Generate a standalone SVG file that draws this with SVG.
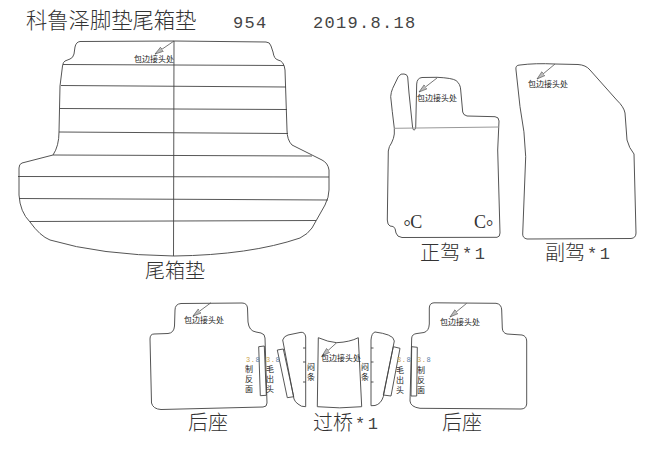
<svg xmlns="http://www.w3.org/2000/svg" width="650" height="455" viewBox="0 0 650 455">
<style>
.o{fill:none;stroke:#555;stroke-width:1}
.t{fill:none;stroke:#444;stroke-width:.9}
.g{fill:none;stroke:#999;stroke-width:1}
.a{fill:none;stroke:#555;stroke-width:.8;marker-end:url(#ah)}
text{font-family:"Noto Sans CJK SC","Liberation Sans",sans-serif;fill:#333}
.big{font-size:20px;font-weight:300}
.note{font-size:8px;fill:#222}
.v{font-size:8px;fill:#222;text-anchor:middle}
.m{font-family:"Liberation Mono",monospace;font-size:17px;letter-spacing:1.3px;fill:#444}
.s{font-family:"Liberation Mono",monospace;font-size:17px;letter-spacing:2.500px;fill:#444}
.n{font-family:"Liberation Mono",monospace;font-size:7px;letter-spacing:.6px;fill:#555}
.c{font-family:"Liberation Serif",serif;font-size:18px;fill:#333}
</style>
<defs>
<marker id="ah" markerWidth="10" markerHeight="7" refX="8.500" refY="3" orient="auto" markerUnits="userSpaceOnUse"><path d="M0 0.500L8.500 3L0 5.500Z" fill="#bbb" stroke="#555" stroke-width=".6"/></marker>
</defs>
<g id="title">
<text x="26" y="28" style="font-size:21.3px;font-weight:300">科鲁泽脚垫尾箱垫</text>
<text x="233" y="28" class="m">954</text>
<text x="313" y="28" class="m">2019.8.18</text>
</g>
<g id="trunk-mat">
<path class="o" d="M174 41L80 41.500Q76 42 75 47L74 54Q73 58 70 59L65 61Q63 62 62.500 66L60 86L59 132Q59 146 53 155L22 163Q19 164 19 168L19 195Q20 212 30 222Q40 236 50 240Q100 255 174 256Q250 255 300 238Q308 234 312 228L325 205Q329 197 329 190L329 170Q328 163 322 160L292 145Q287 140 287 130L285 70Q284 61 278 60Q274 59 273 52L271 46Q270 42 266 42Z"/>
<path class="t" d="M63 64.500L284 65.500M61 85.500L286 87M60 108.500L287 109.500M59 132L288 133.500M53 155L312 156M18 176.500L329 177M19 198.500L328 200M30 221.500L316 220.500M174 41L173.500 256"/>
<path class="a" d="M174 41L155 54"/>
<text x="134" y="61.500" class="note">包边接头处</text>
<text x="145" y="278" class="big">尾箱垫</text>
</g>
<g id="driver-mat">
<path class="o" d="M394.300 128.300Q392 110 390.700 96.700Q391 92 392.700 88.300L398.300 76.700Q401 73 404 74Q407 74 407.700 77L409 93L412.700 128.300Q414 132 415.700 128L416.700 84Q417 78 422 77.500L437 77.300Q452 78 456 80.500Q460.500 84 460.700 90L462.700 112Q463 115 467 116L495 116.700Q499 117 499 121L497.700 150L500 233Q500 237 497 237.300L402 237.500Q397 237 396 233Q395.500 227 393 226.500L390 226Q387.500 225 387.300 220L388.300 151Q389 146 391.500 143Q394 138 394.300 134Z"/>
<path class="g" d="M394.300 128.300L499 127"/>
<path class="a" d="M437 78L419 92"/>
<text x="417" y="100.500" class="note">包边接头处</text>
<text x="403.500" y="228" class="c"><tspan dy="5">°</tspan><tspan dx="-.5" dy="-5">C</tspan></text>
<text x="474" y="228" class="c">C<tspan dy="5">°</tspan></text>
<text x="420" y="260" class="big">正驾<tspan class="s" dx="2" dy="-1">*1</tspan></text>
</g>
<g id="passenger-mat">
<path class="o" d="M516 70Q515 65 520 65Q535 63 555 64L578 64.500Q586 65 590 70L616.700 100Q624 107 625 113L627 140Q629 148 634 154L636 233Q636 238 631 238.500L527 239Q522.500 238 522.700 234L525.700 156.700Q525 132 520 106.700Z"/>
<path class="a" d="M555 64L537 79"/>
<text x="528" y="86.500" class="note">包边接头处</text>
<text x="545" y="260" class="big">副驾<tspan class="s" dx="2" dy="-1">*1</tspan></text>
</g>
<g id="rear-left">
<path class="o" d="M175 310Q175 304 181 303.500L242 303Q247 303 247.500 308L248 322Q249 331 256 332L261 333Q265 334 265 338L267 403Q267 407 263 407L161 409.500Q153 409 151.500 403L150 339Q150 334 154 334L168 333.500Q174 333 174.500 326Z"/>
<path class="t" d="M258.700 346.700L264.300 346L266.300 395.300L260.300 395.700Z"/>
<path class="a" d="M211 302.700L193 316"/>
<text x="184" y="322.500" class="note">包边接头处</text>
<text x="246" y="362" class="n"><tspan fill="#c9a24a">3.</tspan><tspan fill="#5b7fa8">8</tspan></text>
<text x="249" y="372" class="v">制</text>
<text x="249" y="382" class="v">反</text>
<text x="249" y="392" class="v">面</text>
<text x="188" y="430" class="big">后座</text>
</g>
<g id="bridge">
<path class="o" d="M282.700 340Q284 336 288 335L301 332.300Q305 332 305.700 337L305.700 406.700Q301 407 298 404Q295 402 294 399L282.700 340Z"/>
<path class="t" d="M277.300 350L283.300 349L293.700 396.700L287.300 397.700Z"/>
<path class="t" d="M303 348H305.700M303 362H305.700M303 382H305.700"/>
<text x="266" y="362" class="n"><tspan fill="#c9a24a">3.</tspan><tspan fill="#5b7fa8">8</tspan></text>
<text x="270" y="372" class="v">毛</text>
<text x="270" y="382" class="v">出</text>
<text x="270" y="392" class="v">头</text>
<text x="311" y="370" class="v">闷</text>
<text x="311" y="380" class="v">条</text>
<path class="o" d="M318.300 337.700Q328 342 336.700 342.700Q350 342 358.300 337.700L361.700 406.700Q340 409 317.300 406.700Z"/>
<path class="a" d="M336.700 342.700L322 356"/>
<text x="321" y="361" class="note">包边接头处</text>
<path class="o" d="M371 340Q371.500 333 375 332Q383 333 388.300 335Q394 337 394.300 341L383.300 396.700Q381 404 375 405.500L371 405.700Z"/>
<path class="t" d="M393.300 346.700L400 348.300L391 396L383.300 395Z"/>
<path class="t" d="M371 348H373.500M371 362H373.500M371 382H373.500"/>
<text x="365" y="370" class="v">闷</text>
<text x="365" y="380" class="v">条</text>
<text x="397" y="362" class="n"><tspan fill="#c9a24a">3.</tspan><tspan fill="#5b7fa8">8</tspan></text>
<text x="400" y="373" class="v">毛</text>
<text x="400" y="383" class="v">出</text>
<text x="400" y="393" class="v">头</text>
<text x="313" y="430" class="big">过桥<tspan class="s" dx="2" dy="-1">*1</tspan></text>
</g>
<g id="rear-right">
<path class="o" d="M429.300 308Q429.500 303 434 302.800L496 303.300Q501.500 304 501.700 310L502.300 328Q502.500 333 507 334L522 335Q526.500 336 526.700 341L526.700 404Q526 409 521 409L420 408.300Q410.500 407 410 401L411.700 338Q412 334 417 333.500L424 332.500Q429 331 429.300 324Z"/>
<path class="t" d="M411.700 346.700L417.300 347.300L416.700 396L411 396Z"/>
<path class="a" d="M466.700 303.300L450 317"/>
<text x="440" y="325" class="note">包边接头处</text>
<text x="417" y="362" class="n"><tspan fill="#c9a24a">3.</tspan><tspan fill="#5b7fa8">8</tspan></text>
<text x="421" y="373" class="v">制</text>
<text x="421" y="383" class="v">反</text>
<text x="421" y="393" class="v">面</text>
<text x="442" y="430" class="big">后座</text>
</g>
</svg>
